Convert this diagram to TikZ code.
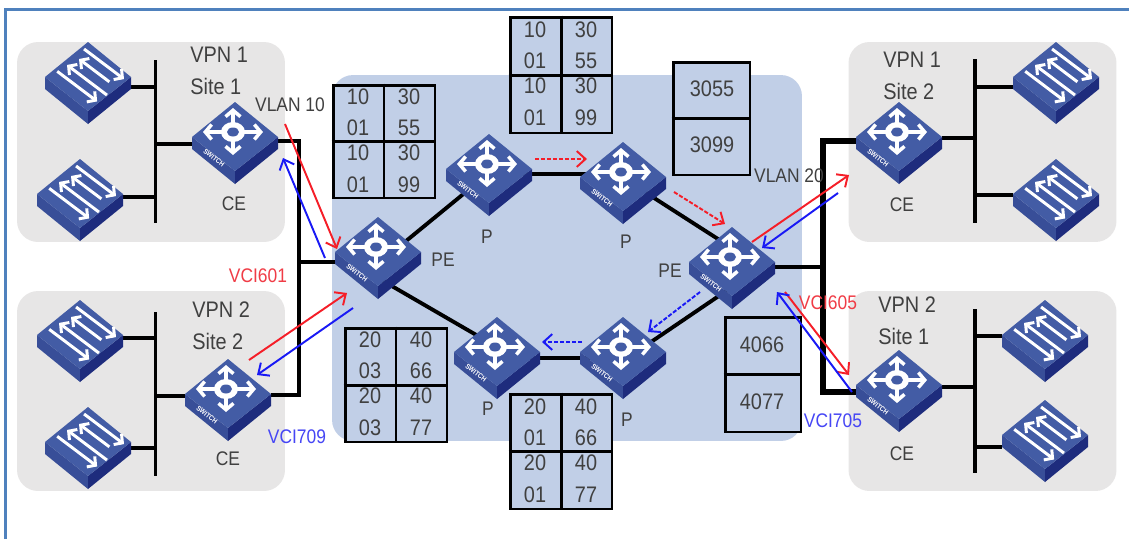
\documentclass[tikz,border=0pt]{standalone}
\usepackage{fontspec}
\usepackage{xcolor}
\usepackage{tikz}
\usetikzlibrary{arrows.meta, positioning, calc}
\setmainfont[FakeStretch=0.885]{Liberation Sans}
\pgfdeclarelayer{backdrop}
\pgfdeclarelayer{wiring}
\pgfsetlayers{backdrop,wiring,main}
\definecolor{frameblue}{RGB}{79, 129, 189}
\definecolor{siteback}{RGB}{231, 230, 230}
\definecolor{coreback}{RGB}{193, 207, 231}
\definecolor{devtop}{RGB}{67, 92, 165}
\definecolor{devleft}{RGB}{56, 78, 152}
\definecolor{devright}{RGB}{30, 44, 125}
\definecolor{darktext}{RGB}{64, 64, 64}
\definecolor{flowred}{RGB}{245, 30, 40}
\definecolor{flowblue}{RGB}{25, 25, 245}
\definecolor{labelred}{RGB}{240, 60, 70}
\definecolor{labelblue}{RGB}{70, 70, 245}

% Device body: top face and two sides
\newcommand{\devbody}{
  \fill[devleft] (-43,0) -- (0,34) -- (0,47) -- (-43,12) -- cycle;
  \fill[devright] (43,0) -- (0,34) -- (0,47) -- (43,12) -- cycle;
  \fill[devtop] (0,-35) -- (43,0) -- (0,34) -- (-43,0) -- cycle;
  \node[devhit] (-c) at (0,0) {};
}
% Table with four cells: name, left upper, left lower, right upper, right lower row 1, right lower row 2
\newcommand{\quadcells}[6]{
  \draw[tableline] (#1.north) -- (#1.south);
  \draw[tableline] (#1.west) -- (#1.east);
  \node[cellnum] (#1-a) at ([shift={(-26,-45)}]#1.center) {#2};
  \node[cellnum] (#1-b) at ([shift={(-26,-14)}]#1.center) {#3};
  \node[cellnum] (#1-c) at ([shift={(-26,11)}]#1.center) {#2};
  \node[cellnum] (#1-d) at ([shift={(-26,43)}]#1.center) {#3};
  \node[cellnum] (#1-e) at ([shift={(25,-45)}]#1.center) {#4};
  \node[cellnum] (#1-f) at ([shift={(25,-14)}]#1.center) {#5};
  \node[cellnum] (#1-g) at ([shift={(25,11)}]#1.center) {#4};
  \node[cellnum] (#1-h) at ([shift={(25,43)}]#1.center) {#6};
}

\begin{document}
\begin{tikzpicture}[
    x=0.02cm, y=-0.02cm,
    devhit/.style={rectangle, minimum width=1.72cm, minimum height=1.4cm, inner sep=0pt},
    sitebox/.style={rectangle, rounded corners=0.42cm, fill=siteback, minimum width=5.36cm, minimum height=4cm, inner sep=0pt},
    tablebox/.style={rectangle, draw=black, line width=1.7pt, fill=coreback, inner sep=0pt},
    tableline/.style={line width=1.7pt, black},
    cellnum/.style={font=\fontsize{12.8}{14}\selectfont, text=darktext, inner sep=0pt},
    sitelabel/.style={align=left, font=\fontsize{12.8}{18.4}\selectfont, text=darktext, inner sep=0pt, anchor=west},
    smalllabel/.style={font=\fontsize{11.2}{13}\selectfont, text=darktext, inner sep=0pt},
    wire/.style={line width=2.2pt, black},
    thickwire/.style={line width=3.2pt, black},
    redflow/.style={-{Straight Barb[length=5pt,width=9pt]}, line width=1.1pt, flowred},
    blueflow/.style={-{Straight Barb[length=5pt,width=9pt]}, line width=1.1pt, flowblue},
    iconarrow/.style={{Straight Barb[length=3.6pt,width=8.5pt]}-{Straight Barb[length=3.6pt,width=8.5pt]}, line width=2pt, white},
    slashbar/.style={-{Straight Barb[length=3.4pt,width=7.5pt]}, line width=1.7pt, white},
    routericon/.pic={
      \devbody
      \draw[iconarrow] (-32,-5) -- (28,-5);
      \draw[iconarrow] (-2,-29) -- (-2,18);
      \fill[white] (-2,-5) ellipse (12 and 10);
      \fill[devtop] (-2,-5) ellipse (6 and 4.5);
      \node[rotate=-39, text=white, inner sep=0pt, font=\fontsize{4}{4}\selectfont\bfseries] (-t) at (-21,21) {SWITCH};
    },
    layericon/.pic={
      \devbody
      \begin{scope}[rotate=-37]
        \draw[slashbar] (-28,14) -- (22,14);
        \draw[slashbar] (26,3) -- (-24,3);
        \draw[slashbar] (20,-9) -- (-18,-9);
        \draw[slashbar] (-20,-20) -- (30,-20);
      \end{scope}
    }
]
\useasboundingbox (0,0) rectangle (1129,539);

% Backgrounds
\begin{pgfonlayer}{backdrop}
\fill[white] (0,0) rectangle (1129,539);
\node[sitebox] (siteA) at (151,142) {};
\node[sitebox] (siteB) at (151,391) {};
\node[sitebox] (siteC) at (982.5,142) {};
\node[sitebox] (siteD) at (982.5,391) {};
\node[rectangle, rounded corners=0.42cm, fill=coreback, minimum width=9.4cm, minimum height=7.32cm, inner sep=0pt] (core) at (567,258) {};
\end{pgfonlayer}
\draw[frameblue, line width=1.7pt] (5.5,539) -- (5.5,9) -- (1129,9);

% Devices, left
\pic (swA) at (88,77) {layericon};
\pic (swB) at (80,194) {layericon};
\pic (swC) at (80,335) {layericon};
\pic (swD) at (88,442) {layericon};
\pic (ceA) at (235,137) {routericon};
\pic (ceB) at (228,394) {routericon};
% Devices, core
\pic (peLeft) at (378,252) {routericon};
\pic (pTopL) at (489,169) {routericon};
\pic (pTopR) at (623,177) {routericon};
\pic (peRight) at (732,262) {routericon};
\pic (pLowR) at (623,352) {routericon};
\pic (pLowL) at (497,352) {routericon};
% Devices, right
\pic (ceC) at (899,137) {routericon};
\pic (ceD) at (899,385) {routericon};
\pic (swE) at (1056,77) {layericon};
\pic (swF) at (1056,194) {layericon};
\pic (swG) at (1045,335) {layericon};
\pic (swH) at (1045,435) {layericon};

% Buses
\coordinate (busAa) at (155.5,60);
\coordinate (busAb) at (155.5,223);
\coordinate (busBa) at (155.5,312);
\coordinate (busBb) at (155.5,476);
\coordinate (busCa) at (975,59);
\coordinate (busCb) at (975,223);
\coordinate (busDa) at (975,309);
\coordinate (busDb) at (975,473);
\coordinate (trunkL) at (299,262);
\coordinate (trunkR) at (823,267);
\begin{pgfonlayer}{wiring}
\draw[wire] (busAa) -- (busAb);
\draw[wire] (busBa) -- (busBb);
\draw[wire] (busCa) -- (busCb);
\draw[wire] (busDa) -- (busDb);
\draw[wire] (swA-c.east) ++(0,10) -- ++(24,0);
\draw[wire] (swB-c.east) ++(0,3) -- ++(32,0);
\draw[wire] (ceA-c.west) ++(0,7) -- ++(-38,0);
\draw[wire] (swC-c.east) ++(0,3) -- ++(32,0);
\draw[wire] (swD-c.east) ++(0,6) -- ++(24,0);
\draw[wire] (ceB-c.west) ++(0,2) -- ++(-30,0);
\draw[wire] (ceC-c.east) ++(0,1) -- ++(33,0);
\draw[wire] (swE-c.west) ++(0,10) -- ++(-38,0);
\draw[wire] (swF-c.west) ++(0,1) -- ++(-38,0);
\draw[wire] (ceD-c.east) ++(0,2) -- ++(33,0);
\draw[wire] (swG-c.west) ++(0,1) -- ++(-27,0);
\draw[wire] (swH-c.west) ++(0,12) -- ++(-27,0);
% Trunks
\draw[wire] ([yshift=-0.08cm]ceA-c.east) -| (trunkL) |- ([yshift=-0.02cm]ceB-c.east);
\draw[wire] (trunkL) -- (trunkL -| peLeft-c.west);
\draw[thickwire] ([yshift=-0.08cm]ceC-c.west) -| (trunkR) |- ([yshift=-0.14cm]ceD-c.west);
\draw[wire] (trunkR) -- (trunkR -| peRight-c.east);
% Core links
\draw[wire] ([yshift=-0.24cm]peLeft-c.center) -- ([yshift=-0.08cm]pTopL-c.center);
\draw[wire] ([yshift=-0.1cm]pTopL-c.center) -- ([yshift=-0.1cm]pTopL-c.center -| pTopR-c.center);
\draw[wire] ([yshift=-0.02cm]pTopR-c.center) -- ([yshift=0.28cm]peRight-c.center);
\draw[wire] ([yshift=-0.5cm]peRight-c.center) -- ([yshift=-0.18cm]pLowR-c.center);
\draw[wire] ([yshift=-0.12cm]pLowL-c.center) -- ([yshift=-0.12cm]pLowL-c.center -| pLowR-c.center);
\draw[wire] ([yshift=-0.52cm]peLeft-c.center) -- ([yshift=0.1cm]pLowL-c.center);
\end{pgfonlayer}

% Tables
\node[tablebox, minimum width=2.04cm, minimum height=2.26cm] (tabA) at (384,141.5) {};
\quadcells{tabA}{10}{01}{30}{55}{99}
\node[tablebox, minimum width=2.04cm, minimum height=2.32cm] (tabB) at (561,75) {};
\quadcells{tabB}{10}{01}{30}{55}{99}
\node[tablebox, minimum width=2.04cm, minimum height=2.28cm] (tabC) at (396,385) {};
\quadcells{tabC}{20}{03}{40}{66}{77}
\node[tablebox, minimum width=2.04cm, minimum height=2.3cm] (tabD) at (561,451.5) {};
\quadcells{tabD}{20}{01}{40}{66}{77}
\node[tablebox, minimum width=1.54cm, minimum height=2.26cm] (tabE) at (711.5,118.5) {};
\draw[tableline] (tabE.west) -- (tabE.east);
\node[cellnum] (cellE-a) at (712,89) {3055};
\node[cellnum] (cellE-b) at (712,145) {3099};
\node[tablebox, minimum width=1.52cm, minimum height=2.3cm] (tabF) at (763,374.5) {};
\draw[tableline] (tabF.west) -- (tabF.east);
\node[cellnum] (cellF-a) at (762,345) {4066};
\node[cellnum] (cellF-b) at (762,402) {4077};

% Labels
\node[sitelabel] (siteTextA) at (190,71) {VPN 1\\Site 1};
\node[sitelabel] (siteTextB) at (192,326) {VPN 2\\Site 2};
\node[sitelabel] (siteTextC) at (883,76) {VPN 1\\Site 2};
\node[sitelabel] (siteTextD) at (878,321) {VPN 2\\Site 1};
\node[smalllabel] (ceTextA) at (234,204) {CE};
\node[smalllabel] (ceTextB) at (228,459) {CE};
\node[smalllabel] (ceTextC) at (902,205) {CE};
\node[smalllabel] (ceTextD) at (902,454) {CE};
\node[smalllabel] (peTextL) at (443,260) {PE};
\node[smalllabel] (peTextR) at (670,271) {PE};
\node[smalllabel] (pTextA) at (487,237) {P};
\node[smalllabel] (pTextB) at (626,242) {P};
\node[smalllabel] (pTextC) at (488,409) {P};
\node[smalllabel] (pTextD) at (627,420) {P};
\node[smalllabel] (vlanA) at (290,105) {VLAN 10};
\node[smalllabel] (vlanB) at (789,176) {VLAN 20};
\node[smalllabel, text=labelred] (vciA) at (258,276) {VCI601};
\node[smalllabel, text=labelblue] (vciB) at (297,437) {VCI709};
\node[smalllabel, text=labelred] (vciC) at (828,303) {VCI605};
\node[smalllabel, text=labelblue] (vciD) at (833,421) {VCI705};

% Traffic arrows
\coordinate (redAa) at (285,124);
\coordinate (redAb) at (337,249);
\coordinate (blueAa) at (325,258);
\coordinate (blueAb) at (283,158);
\coordinate (redBa) at (249,360);
\coordinate (redBb) at (347,293);
\coordinate (blueBa) at (353,308);
\coordinate (blueBb) at (257,375);
\coordinate (redCa) at (535,159);
\coordinate (redCb) at (587,159);
\coordinate (redDa) at (674,192);
\coordinate (redDb) at (725,224);
\coordinate (blueCa) at (700,292);
\coordinate (blueCb) at (648,332);
\coordinate (blueDa) at (582,342);
\coordinate (blueDb) at (542,342);
\coordinate (redEa) at (752,242);
\coordinate (redEb) at (849,175);
\coordinate (blueEa) at (838,193);
\coordinate (blueEb) at (762,248);
\coordinate (redFa) at (785,292);
\coordinate (redFb) at (849,375);
\coordinate (blueFa) at (852,392);
\coordinate (blueFb) at (777,292);
\draw[redflow] (redAa) -- (redAb);
\draw[blueflow] (blueAa) -- (blueAb);
\draw[redflow] (redBa) -- (redBb);
\draw[blueflow] (blueBa) -- (blueBb);
\draw[redflow, dash pattern=on 2.4pt off 1pt] (redCa) -- (redCb);
\draw[redflow, dash pattern=on 2.4pt off 1pt] (redDa) -- (redDb);
\draw[blueflow, dash pattern=on 2.4pt off 1pt] (blueCa) -- (blueCb);
\draw[blueflow, dash pattern=on 2.4pt off 1pt] (blueDa) -- (blueDb);
\draw[redflow] (redEa) -- (redEb);
\draw[blueflow] (blueEa) -- (blueEb);
\draw[redflow] (redFa) -- (redFb);
\draw[blueflow] (blueFa) -- (blueFb);
\end{tikzpicture}
\end{document}
